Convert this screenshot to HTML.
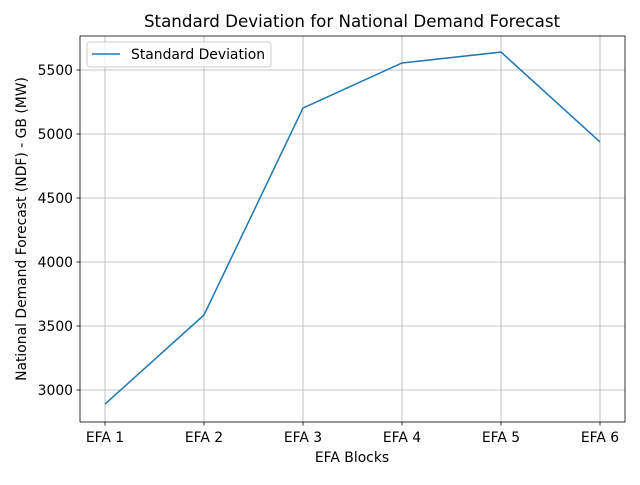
<!DOCTYPE html>
<html><head><meta charset="utf-8"><style>
body{margin:0;background:#fff}
svg text{font-family:"DejaVu Sans","Liberation Sans",sans-serif;fill:#000}
</style></head><body>
<svg id="chart" width="640" height="480">
<text x="352" y="27" font-size="16.7" text-anchor="middle">Standard Deviation for National Demand Forecast</text>
<text x="352" y="462" font-size="13.9" text-anchor="middle">EFA Blocks</text>
<text transform="translate(26,229) rotate(-90)" font-size="13.9" text-anchor="middle">National Demand Forecast (NDF) - GB (MW)</text>
<g id="grid"></g><g id="marks"></g><g id="ticks"></g>
<rect x="80" y="36" width="545" height="386" fill="none" stroke="#000" stroke-width="0.8"/>
<g>
<rect x="87" y="42" width="184" height="25" rx="3" fill="#fff" fill-opacity="0.8" stroke="#ccc"/>
<line x1="92" y1="54" x2="120" y2="54" stroke="#1f77b4" stroke-width="1.5"/>
<text x="131" y="59" font-size="13.9">Standard Deviation</text>
</g>
</svg>
<script>
const categories=["EFA 1","EFA 2","EFA 3","EFA 4","EFA 5","EFA 6"];
const values=[2890,3586,5203,5555,5640,4938];
const yTicks=[3000,3500,4000,4500,5000,5500];
const NS="http://www.w3.org/2000/svg";
const x=i=>105+i*99;
const y=v=>390-(v-3000)*0.128;
const grid=document.getElementById('grid'),marks=document.getElementById('marks'),ticks=document.getElementById('ticks');
function mk(tag,attrs,parent){const e=document.createElementNS(NS,tag);for(const k in attrs)e.setAttribute(k,attrs[k]);parent.appendChild(e);return e;}
categories.forEach((c,i)=>{
 const g=mk('line',{x1:x(i),x2:x(i),y1:36,y2:422,stroke:'#b0b0b0','stroke-width':0.8},grid);
 
 
 mk('line',{x1:x(i),x2:x(i),y1:422,y2:425.5,stroke:'#000','stroke-width':0.8},ticks);
 const t=mk('text',{x:x(i),y:442,'font-size':13.9,'text-anchor':'middle'},ticks);
 t.textContent=c;
 
 
});
yTicks.forEach(v=>{
 const g=mk('line',{x1:80,x2:625,y1:y(v),y2:y(v),stroke:'#b0b0b0','stroke-width':0.8},grid);
 
 
 mk('line',{x1:76.5,x2:80,y1:y(v),y2:y(v),stroke:'#000','stroke-width':0.8},ticks);
 const t=mk('text',{x:73,y:y(v)+5,'font-size':13.9,'text-anchor':'end'},ticks);
 t.textContent=v;
 
 
});
const p=mk('polyline',{points:values.map((v,i)=>x(i)+','+y(v)).join(' '),fill:'none',stroke:'#1f77b4','stroke-width':1.5},marks);


</script>
</body></html>
